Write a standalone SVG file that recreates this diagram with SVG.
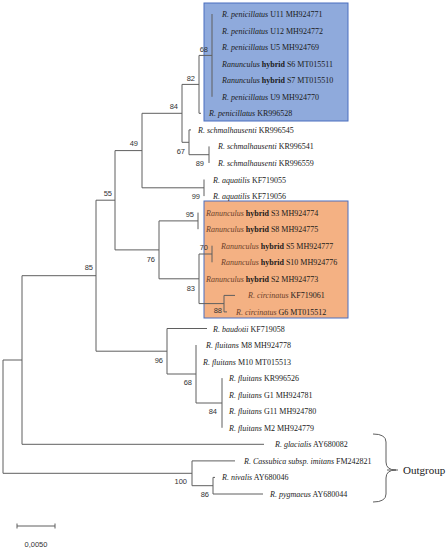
<svg xmlns="http://www.w3.org/2000/svg" width="448" height="550" viewBox="0 0 448 550">
<style>
.t{font-family:"Liberation Serif","Times New Roman",serif;font-size:8px;fill:#1a1a1a}
.i{font-style:italic}
.b{font-weight:bold}
.o .i{fill:#6b3f2a}
.bs{font-family:"Liberation Sans",Arial,sans-serif;font-size:7.5px;fill:#333;text-anchor:end}
.br{fill:none;stroke:#5f5f5f;stroke-width:1}
</style>
<rect id="box-penicillatus" x="204" y="3" width="144" height="118" fill="#8faadc" stroke="#4a6fbf" stroke-width="1"/>
<rect id="box-circinatus" x="204" y="201" width="144" height="117" fill="#f4b183" stroke="#4a6fbf" stroke-width="1"/>
<g id="connectors" class="br">
<path d="M3,360V473.3M3,360H22M3,473.3H192"/>
<path d="M22,275.7V444.3M22,275.7H96M22,444.3H264"/>
<path d="M96,200.2V351.2M96,200.2H115M96,351.2H167"/>
<path d="M115,150.6V249.9M115,150.6H142M115,249.9H159"/>
<path d="M142,113.3V187.8M142,113.3H182M142,187.8H204"/>
<path d="M182,84.4V142.3M182,84.4H199M182,142.3H189"/>
<path d="M199,55.4V113.3M199,55.4H212M199,113.3H201"/>
<path d="M212,14V96.8"/>
<path d="M189,129.9V154.7M189,129.9H191M189,154.7H209"/>
<path d="M209,146.4V163"/>
<path d="M204,179.5V196.1"/>
<path d="M159,220.9V278.8M159,220.9H198M159,278.8H199"/>
<path d="M198,212.6V229.2"/>
<path d="M199,254V303.6M199,254H212M199,303.6H224"/>
<path d="M212,245.7V262.3"/>
<path d="M224,295.4V311.9M224,295.4H235M224,311.9H227"/>
<path d="M167,328.5V374M167,328.5H207M167,374H196"/>
<path d="M196,345V403M196,403H222"/>
<path d="M222,378.1V427.8"/>
<path d="M192,460.9V485.7M192,460.9H235M192,485.7H213"/>
<path d="M213,477.4V494M213,494H263M213,477.4H215"/>
</g>
<g id="bootstrap" class="bs">
<text x="208" y="52">68</text>
<text x="195" y="81">82</text>
<text x="178" y="109">84</text>
<text x="138" y="146">49</text>
<text x="185" y="154">67</text>
<text x="204" y="166">89</text>
<text x="200" y="199">99</text>
<text x="112" y="196">55</text>
<text x="194" y="217">95</text>
<text x="208" y="250">70</text>
<text x="155" y="262">76</text>
<text x="195" y="291">83</text>
<text x="222" y="313">88</text>
<text x="93" y="270">85</text>
<text x="163" y="363">96</text>
<text x="192" y="385">68</text>
<text x="217" y="414">84</text>
<text x="187" y="484">100</text>
<text x="209" y="497">86</text>
</g>
<g id="leaf-U11"><text class="t" x="222" y="17"><tspan class="i">R. penicillatus</tspan> U11 MH924771</text></g>
<g id="leaf-U12"><text class="t" x="222" y="33.6"><tspan class="i">R. penicillatus</tspan> U12 MH924772</text></g>
<g id="leaf-U5"><text class="t" x="222" y="50.1"><tspan class="i">R. penicillatus</tspan> U5 MH924769</text></g>
<g id="leaf-S6"><text class="t" x="222" y="66.7"><tspan class="i">Ranunculus</tspan> <tspan class="b">hybrid</tspan> S6 MT015511</text></g>
<g id="leaf-S7"><text class="t" x="222" y="83.2"><tspan class="i">Ranunculus</tspan> <tspan class="b">hybrid</tspan> S7 MT015510</text></g>
<g id="leaf-U9"><text class="t" x="222" y="99.8"><tspan class="i">R. penicillatus</tspan> U9 MH924770</text></g>
<g id="leaf-KR996528"><text class="t" x="209" y="116.3"><tspan class="i">R. penicillatus</tspan> KR996528</text></g>
<g id="leaf-KR996545"><text class="t" x="198" y="132.9"><tspan class="i">R. schmalhausenti</tspan> KR996545</text></g>
<g id="leaf-KR996541"><text class="t" x="218" y="149.4"><tspan class="i">R. schmalhausenti</tspan> KR996541</text></g>
<g id="leaf-KR996559"><text class="t" x="218" y="166"><tspan class="i">R. schmalhausenti</tspan> KR996559</text></g>
<g id="leaf-KF719055"><text class="t" x="213" y="182.5"><tspan class="i">R. aquatilis</tspan> KF719055</text></g>
<g id="leaf-KF719056"><text class="t" x="213" y="199.1"><tspan class="i">R. aquatilis</tspan> KF719056</text></g>
<g class="o">
<g id="leaf-S3"><text class="t" x="206" y="215.6"><tspan class="i">Ranunculus</tspan> <tspan class="b">hybrid</tspan> S3 MH924774</text></g>
<g id="leaf-S8"><text class="t" x="206" y="232.2"><tspan class="i">Ranunculus</tspan> <tspan class="b">hybrid</tspan> S8 MH924775</text></g>
<g id="leaf-S5"><text class="t" x="221" y="248.7"><tspan class="i">Ranunculus</tspan> <tspan class="b">hybrid</tspan> S5 MH924777</text></g>
<g id="leaf-S10"><text class="t" x="221" y="265.3"><tspan class="i">Ranunculus</tspan> <tspan class="b">hybrid</tspan> S10 MH924776</text></g>
<g id="leaf-S2"><text class="t" x="206" y="281.8"><tspan class="i">Ranunculus</tspan> <tspan class="b">hybrid</tspan> S2 MH924773</text></g>
<g id="leaf-KF719061"><text class="t" x="248" y="298.4"><tspan class="i">R. circinatus</tspan> KF719061</text></g>
<g id="leaf-G6"><text class="t" x="236" y="314.9"><tspan class="i">R. circinatus</tspan> G6 MT015512</text></g>
</g>
<g id="leaf-KF719058"><text class="t" x="213" y="331.5"><tspan class="i">R. baudotii</tspan> KF719058</text></g>
<g id="leaf-M8"><text class="t" x="206" y="348"><tspan class="i">R. fluitans</tspan> M8 MH924778</text></g>
<g id="leaf-M10"><text class="t" x="203" y="364.6"><tspan class="i">R. fluitans</tspan> M10 MT015513</text></g>
<g id="leaf-KR996526"><text class="t" x="229" y="381.1"><tspan class="i">R. fluitans</tspan> KR996526</text></g>
<g id="leaf-G1"><text class="t" x="229" y="397.7"><tspan class="i">R. fluitans</tspan> G1 MH924781</text></g>
<g id="leaf-G11"><text class="t" x="229" y="414.2"><tspan class="i">R. fluitans</tspan> G11 MH924780</text></g>
<g id="leaf-M2"><text class="t" x="229" y="430.8"><tspan class="i">R. fluitans</tspan> M2 MH924779</text></g>
<g id="leaf-AY680082"><text class="t" x="275" y="447.3"><tspan class="i">R. glacialis</tspan> AY680082</text></g>
<g id="leaf-FM242821"><text class="t" x="244" y="463.9"><tspan class="i">R. Cassubica subsp. imitans</tspan> FM242821</text></g>
<g id="leaf-AY680046"><text class="t" x="222" y="480.4"><tspan class="i">R. nivalis</tspan> AY680046</text></g>
<g id="leaf-AY680044"><text class="t" x="270" y="497"><tspan class="i">R. pygmaeus</tspan> AY680044</text></g>
<g id="outgroup">
<path class="br" d="M373,434Q386,434 386,442V462Q386,470 396,470Q386,470 386,478V494Q386,502 373,502"/>
<path class="br" d="M387,470H398"/>
<text x="403" y="474" style="font-family:'Liberation Serif','Times New Roman',serif;font-size:11px;fill:#1a1a1a">Outgroup</text>
</g>
<g id="scale-bar">
<path class="br" d="M17,526H55M17,523.5V528.5M55,523.5V528.5"/>
<text x="36" y="547" style="font-family:'Liberation Sans',Arial,sans-serif;font-size:7.5px;fill:#333;text-anchor:middle">0,0050</text>
</g>
</svg>
